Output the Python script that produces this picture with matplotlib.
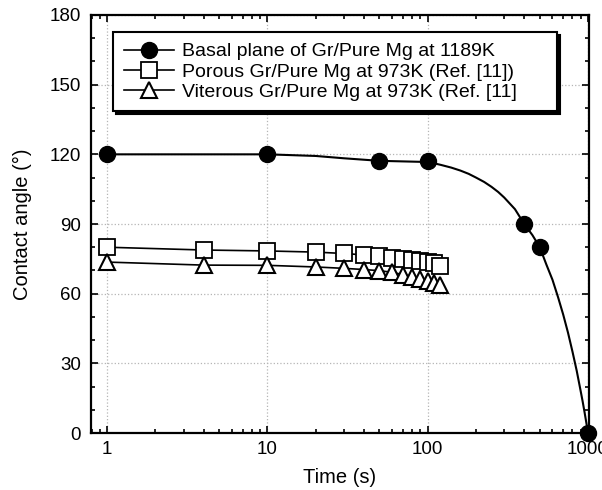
import matplotlib
matplotlib.use("Agg")
import matplotlib.pyplot as plt
from matplotlib.ticker import MultipleLocator, LogLocator, NullFormatter, FixedFormatter, FixedLocator

plt.rcParams["font.family"] = ["Liberation Sans", "DejaVu Sans"]

# Basal plane of Gr/Pure Mg at 1189K
basal_t = [1, 10, 50, 100, 400, 500, 1000]
basal_angle = [120, 120, 117, 117, 90, 80, 0]
# smooth curve through the basal data
basal_fit_t = [1, 10, 20, 30, 50, 100, 110, 120, 140, 160, 180, 200, 225, 250,
               275, 300, 350, 400, 450, 500, 550, 600, 650, 700, 750, 800,
               850, 900, 925, 950, 975, 1000]
basal_fit_angle = [120, 120, 119.3, 118.3, 117.2, 116.7, 116.1, 115.5, 114.3,
                   113.0, 111.6, 110.0, 108.1, 106.0, 103.8, 101.4, 96.4, 90,
                   85.2, 80, 72.5, 66.0, 58.5, 51, 43.2, 35, 26.8, 18, 13.7,
                   9.2, 4.6, 0]

# Porous / Viterous Gr/Pure Mg at 973K (Ref. [11])
ref_t = [1, 4, 10, 20, 30, 40, 50, 60, 70, 80, 90, 100, 110, 120]
porous_angle = [80, 78.8, 78.4, 77.9, 77.3, 76.7, 76.1, 75.5, 75.0, 74.5,
                74.0, 73.5, 73.0, 72.0]
viterous_angle = [73.6, 72.3, 72.2, 71.5, 70.9, 70.4, 69.9, 69.2, 68.2, 67.2,
                  66.3, 65.3, 64.6, 63.8]

x_ticks = [1, 10, 100, 1000]
x_tick_labels = ["1", "10", "100", "1000"]
y_ticks = [0, 30, 60, 90, 120, 150, 180]

fig = plt.figure(figsize=(6.02, 4.90), dpi=100)
ax = fig.add_axes([0.1507, 0.1163, 0.8277, 0.8531])

ax.plot(basal_fit_t, basal_fit_angle, color="black", lw=1.5, zorder=3)
ax.plot(basal_t, basal_angle, "o", color="black", ms=11.5, zorder=4,
        clip_on=False)
ax.plot(ref_t, porous_angle, "-", color="black", lw=1.2, marker="s", ms=11.5,
        mfc="white", mec="black", mew=1.3, zorder=4)
ax.plot(ref_t, viterous_angle, "-", color="black", lw=1.2, marker="^", ms=12,
        mfc="white", mec="black", mew=1.5, zorder=4)

# legend proxies (line + marker)
h1, = ax.plot([], [], "-o", color="black", ms=11.5, lw=1.2)
h2, = ax.plot([], [], "-s", color="black", ms=11.5, mfc="white", mew=1.3, lw=1.2)
h3, = ax.plot([], [], "-^", color="black", ms=12, mfc="white", mew=1.5, lw=1.2)
leg = ax.legend([h1, h2, h3],
                ["Basal plane of Gr/Pure Mg at 1189K",
                 "Porous Gr/Pure Mg at 973K (Ref. [11])",
                 "Viterous Gr/Pure Mg at 973K (Ref. [11]"],
                loc="upper left", bbox_to_anchor=(0.045, 0.5, 0.891, 0.459),
                mode="expand", borderaxespad=0, fontsize=14,
                handlelength=2.6, handletextpad=0.4, labelspacing=0.13,
                borderpad=0.55, fancybox=False, framealpha=1,
                shadow={"color": "black", "alpha": 1})
leg.get_frame().set_edgecolor("black")
leg.get_frame().set_linewidth(1.5)
leg.set_zorder(6)

ax.set_xscale("log")
ax.set_xlim(0.79, 1014)
ax.set_ylim(0, 180)
ax.xaxis.set_major_locator(FixedLocator(x_ticks))
ax.xaxis.set_major_formatter(FixedFormatter(x_tick_labels))
ax.xaxis.set_minor_locator(LogLocator(base=10, subs=range(2, 10)))
ax.xaxis.set_minor_formatter(NullFormatter())
ax.set_yticks(y_ticks)
ax.yaxis.set_minor_locator(MultipleLocator(10))

ax.tick_params(which="both", direction="in", top=True, right=True,
               labelsize=13.5, width=1.2)
ax.tick_params(which="major", length=5)
ax.tick_params(which="minor", length=3)
ax.tick_params(axis="y", pad=7)
ax.tick_params(axis="x", pad=6)
for sp in ax.spines.values():
    sp.set_linewidth(1.6)

ax.grid(True, which="major", color="#b5b5b5", linestyle=":", linewidth=0.9)
ax.set_axisbelow(True)

ax.set_xlabel("Time (s)", fontsize=14.5, labelpad=7)
ax.set_ylabel("Contact angle (°)", fontsize=14.5, labelpad=13)

fig.savefig("out.png", dpi=100)
plt.close(fig)
